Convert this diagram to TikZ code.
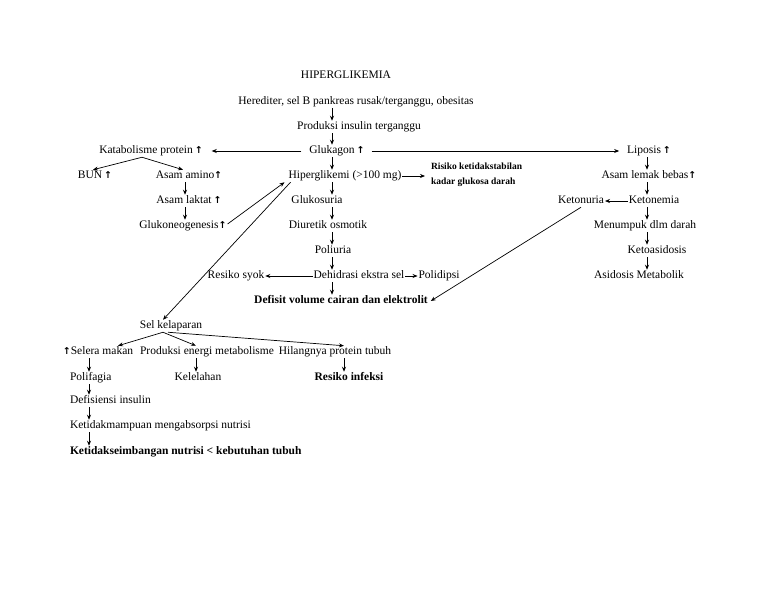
\documentclass[tikz,border=0pt]{standalone}
\usepackage{fontspec}
\setmainfont{Liberation Serif}
\newfontfamily\symfont{DejaVu Sans}
\usetikzlibrary{arrows.meta,positioning,calc}
\newcommand{\naik}{{\symfont\bfseries\fontsize{9.5}{9.5}\selectfont ↑}}

\begin{document}
\begin{tikzpicture}[x=1pt, y=-1pt,
txt/.style={font=\fontsize{11.5}{13}\selectfont, inner sep=0.8pt, text height=8pt, text depth=2.5pt},
txtbold/.style={txt, font=\fontsize{11.5}{13}\selectfont\bfseries},
note/.style={font=\fontsize{9.5}{15}\selectfont\bfseries, align=left, inner sep=0.8pt},
arrow/.style={-{Stealth[length=5pt,width=4pt]}, line width=0.7pt}
]
\useasboundingbox (0,0) rectangle (768,594);
% column axes for the vertical arrows
\coordinate (axmid) at (332,0);
\coordinate (axright) at (647,0);
\coordinate (axamino) at (185,0);
\coordinate (axleft) at (89,0);
\coordinate (axenergi) at (196,0);
\coordinate (axhilang) at (344,0);

% top chain
\node[txt] (title) at (346,76) {HIPERGLIKEMIA};
\node[txt] (hered) at (356,102) {Herediter, sel B pankreas rusak/terganggu, obesitas};
\node[txt] (prod) at (359,127) {Produksi insulin terganggu};
\node[txt] (gluk) at (337,151) {Glukagon\,\naik};
\node[txt] (katab) at (151,151) {Katabolisme protein\,\naik};
\node[txt] (lipo) at (649,151) {Liposis\,\naik};

% protein branch
\node[txt] (bun) at (95,176) {BUN\,\naik};
\node[txt] (amino) at (189,176) {Asam amino\naik};
\node[txt] (laktat) at (189,201) {Asam laktat\,\naik};
\node[txt] (glukoneo) at (183,226) {Glukoneogenesis\naik};

% middle branch
\node[txt] (hiper) at (345,176) {Hiperglikemi (>100 mg)};
\node[note, anchor=west] (risiko) at (430,175) {Risiko ketidakstabilan\\kadar glukosa darah};
\node[txt] (glukos) at (317,201) {Glukosuria};
\node[txt] (diuretik) at (328,226) {Diuretik osmotik};
\node[txt] (poliuria) at (333,251) {Poliuria};
\node[txt] (dehid) at (359,276) {Dehidrasi ekstra sel};
\node[txt] (syok) at (236,276) {Resiko syok};
\node[txt] (polidipsi) at (439,276) {Polidipsi};
\node[txtbold] (defisit) at (341,301) {Defisit volume cairan dan elektrolit};

% lipid branch
\node[txt] (lemak) at (649,176) {Asam lemak bebas\naik};
\node[txt] (ketonemia) at (654,201) {Ketonemia};
\node[txt] (ketonuria) at (581,201) {Ketonuria};
\node[txt] (menumpuk) at (645,226) {Menumpuk dlm darah};
\node[txt] (ketoas) at (657,251) {Ketoasidosis};
\node[txt] (asidosis) at (639,276) {Asidosis Metabolik};

% cell starvation branch
\node[txt] (sel) at (171,326) {Sel kelaparan};
\node[txt] (selera) at (98,352) {\naik Selera makan};
\node[txt] (energi) at (207,352) {Produksi energi metabolisme};
\node[txt] (hilang) at (335,352) {Hilangnya protein tubuh};
\node[txt, anchor=west] (polifagia) at (69,378) {Polifagia};
\node[txt] (kelelahan) at (198,378) {Kelelahan};
\node[txtbold] (infeksi) at (349,378) {Resiko infeksi};
\node[txt, anchor=west] (defisiensi) at (69,401) {Defisiensi insulin};
\node[txt, anchor=west] (absorpsi) at (69,426) {Ketidakmampuan mengabsorpsi nutrisi};
\node[txtbold, anchor=west] (nutrisi) at (69,452) {Ketidakseimbangan nutrisi < kebutuhan tubuh};

% connectors
\draw[arrow] (hered.south -| axmid) -- (prod.north -| axmid);
\draw[arrow] (prod.south -| axmid) -- (gluk.north -| axmid);
\draw[arrow] ([xshift=-7pt]gluk.west) -- ([xshift=8pt]katab.east);
\draw[arrow] ([xshift=6pt]gluk.east) -- ([xshift=-7pt]lipo.west);
\draw[arrow] ([xshift=-9pt]katab.south) -- ([xshift=-2pt]bun.north);
\draw[arrow] ([xshift=-9pt]katab.south) -- ([xshift=-6pt]amino.north);
\draw[arrow] (amino.south -| axamino) -- (laktat.north -| axamino);
\draw[arrow] (laktat.south -| axamino) -- (glukoneo.north -| axamino);
\draw[arrow] ([yshift=2pt]glukoneo.east) -- ([xshift=-3pt]hiper.south west);
\draw[arrow] ([xshift=3pt]hiper.south west) -- ([xshift=-8pt]sel.north);
\draw[arrow, shorten >=5pt] (hiper.east) -- (hiper.east -| risiko.west);
\draw[arrow] (gluk.south -| axmid) -- (hiper.north -| axmid);
\draw[arrow] (hiper.south -| axmid) -- (glukos.north -| axmid);
\draw[arrow] (glukos.south -| axmid) -- (diuretik.north -| axmid);
\draw[arrow] (diuretik.south -| axmid) -- (poliuria.north -| axmid);
\draw[arrow] (poliuria.south -| axmid) -- (dehid.north -| axmid);
\draw[arrow] (dehid.west) -- (syok.east);
\draw[arrow] (dehid.east) -- (polidipsi.west);
\draw[arrow] (dehid.south -| axmid) -- (defisit.north -| axmid);
\draw[arrow] (lipo.south -| axright) -- (lemak.north -| axright);
\draw[arrow] (lemak.south -| axright) -- (ketonemia.north -| axright);
\draw[arrow] (ketonemia.west) -- (ketonuria.east);
\draw[arrow] (ketonemia.south -| axright) -- (menumpuk.north -| axright);
\draw[arrow] (menumpuk.south -| axright) -- (ketoas.north -| axright);
\draw[arrow] (ketoas.south -| axright) -- (asidosis.north -| axright);
\draw[arrow] (ketonuria.south) -- ([xshift=2pt]defisit.east);
\draw[arrow] ([xshift=-8pt]sel.south) -- ([xshift=20pt]selera.north);
\draw[arrow] ([xshift=-8pt]sel.south) -- (energi.north -| axenergi);
\draw[arrow] ([xshift=-3pt]sel.south) -- (hilang.north -| axhilang);
\draw[arrow] (selera.south -| axleft) -- (polifagia.north -| axleft);
\draw[arrow] (energi.south -| axenergi) -- (kelelahan.north -| axenergi);
\draw[arrow] (hilang.south -| axhilang) -- (infeksi.north -| axhilang);
\draw[arrow] (polifagia.south -| axleft) -- (defisiensi.north -| axleft);
\draw[arrow] (defisiensi.south -| axleft) -- (absorpsi.north -| axleft);
\draw[arrow] (absorpsi.south -| axleft) -- (nutrisi.north -| axleft);
\end{tikzpicture}
\end{document}
